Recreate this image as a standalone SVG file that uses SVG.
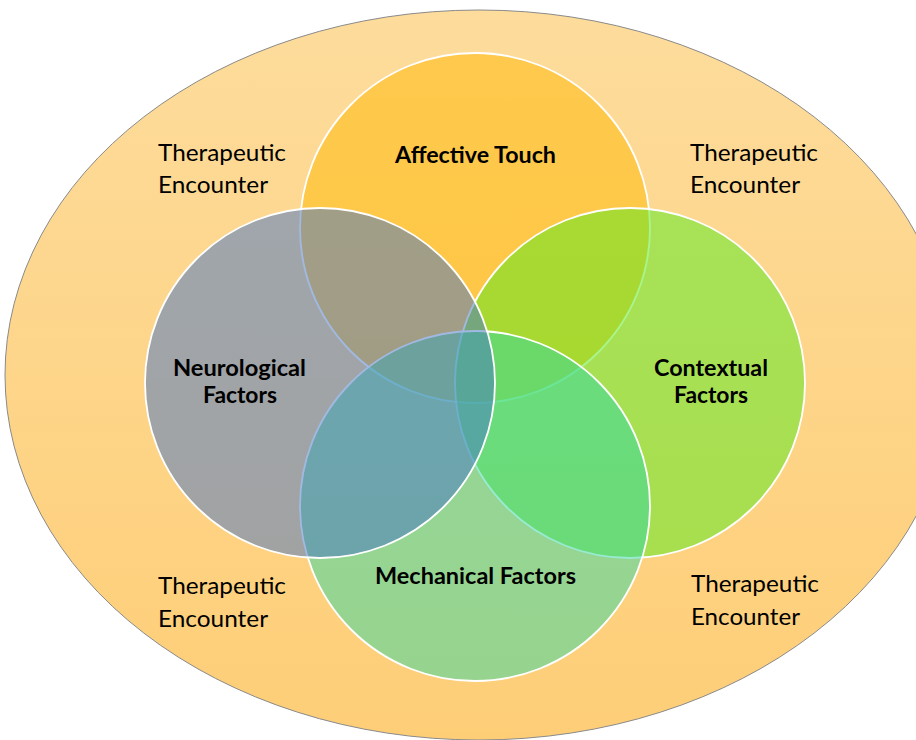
<svg xmlns="http://www.w3.org/2000/svg" width="916" height="740" viewBox="0 0 916 740">
  <defs>
    <linearGradient id="bg" x1="0" y1="0" x2="0" y2="1">
      <stop offset="0" stop-color="#FDDC9C"/>
      <stop offset="1" stop-color="#FECE77"/>
    </linearGradient>
    <style>
      .c { fill-opacity: 0.5; stroke: #FFFFFF; stroke-width: 1.8; }
      .lbl { font-family: Lato, "Liberation Sans", sans-serif; font-weight: bold; font-size: 22px; fill: #000000; }
      .enc { font-family: Lato, "Liberation Sans", sans-serif; font-size: 23px; fill: #000000; }
    </style>
  </defs>
  <rect width="916" height="740" fill="#FFFFFF"/>
  <g id="encounter">
    <ellipse cx="479" cy="375" rx="474" ry="365" fill="url(#bg)" stroke="#8A8A8A" stroke-width="1"/>
    <text class="enc" x="158" y="161" textLength="128" lengthAdjust="spacingAndGlyphs">Therapeutic</text>
    <text class="enc" x="158" y="193" textLength="110" lengthAdjust="spacingAndGlyphs">Encounter</text>
    <text class="enc" x="690" y="161" textLength="128" lengthAdjust="spacingAndGlyphs">Therapeutic</text>
    <text class="enc" x="690" y="193" textLength="110" lengthAdjust="spacingAndGlyphs">Encounter</text>
    <text class="enc" x="158" y="594" textLength="128" lengthAdjust="spacingAndGlyphs">Therapeutic</text>
    <text class="enc" x="158" y="627" textLength="110" lengthAdjust="spacingAndGlyphs">Encounter</text>
    <text class="enc" x="691" y="592" textLength="128" lengthAdjust="spacingAndGlyphs">Therapeutic</text>
    <text class="enc" x="691" y="625" textLength="109" lengthAdjust="spacingAndGlyphs">Encounter</text>
  </g>
  <g id="affective">
    <circle class="c" cx="475" cy="228" r="175" fill="#FFB800"/>
  </g>
  <g id="contextual">
    <circle class="c" cx="630" cy="383" r="175" fill="#51EC1D"/>
  </g>
  <g id="mechanical">
    <circle class="c" cx="475" cy="506" r="175" fill="#2ED8A4"/>
  </g>
  <g id="neurological">
    <circle class="c" cx="320" cy="383" r="175" fill="#4474C5"/>
  </g>
  <g id="labels">
    <text class="lbl" x="395" y="163" textLength="161" lengthAdjust="spacingAndGlyphs">Affective Touch</text>
    <text class="lbl" x="173" y="376" textLength="133" lengthAdjust="spacingAndGlyphs">Neurological</text>
    <text class="lbl" x="203" y="403" textLength="74" lengthAdjust="spacingAndGlyphs">Factors</text>
    <text class="lbl" x="654" y="376" textLength="114" lengthAdjust="spacingAndGlyphs">Contextual</text>
    <text class="lbl" x="674" y="403" textLength="74" lengthAdjust="spacingAndGlyphs">Factors</text>
    <text class="lbl" x="375" y="584" textLength="201" lengthAdjust="spacingAndGlyphs">Mechanical Factors</text>
  </g>
  <g id="connectors"/>
</svg>
